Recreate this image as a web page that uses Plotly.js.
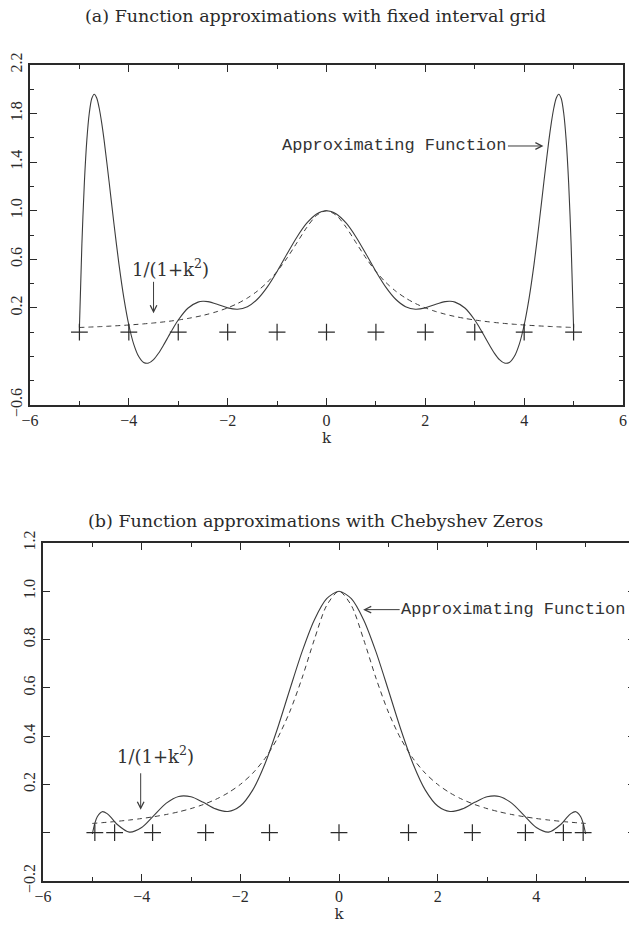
<!DOCTYPE html>
<html>
<head>
<meta charset="utf-8">
<script src="https://cdn.plot.ly/plotly-3.0.1.min.js"></script>
<style>
html,body{margin:0;padding:0;overflow:hidden;background:#fff;}
#chart{width:640px;height:928px;}
</style>
</head>
<body>
<div id="chart"></div>
<script>
// ---------- Data ----------
// (a) fixed interval grid
const kA = [-5,-4.95,-4.9,-4.85,-4.8,-4.75,-4.7,-4.65,-4.6,-4.55,-4.5,-4.4,-4.3,-4.2,-4.1,-4,-3.9,-3.8,-3.7,-3.6,-3.5,-3.4,-3.3,-3.2,-3.1,-3,-2.8,-2.6,-2.5,-2.4,-2.2,-2,-1.8,-1.6,-1.4,-1.2,-1,-0.8,-0.6,-0.4,-0.2,0,0.2,0.4,0.6,0.8,1,1.2,1.4,1.6,1.8,2,2.2,2.4,2.5,2.6,2.8,3,3.1,3.2,3.3,3.4,3.5,3.6,3.7,3.8,3.9,4,4.1,4.2,4.3,4.4,4.5,4.55,4.6,4.65,4.7,4.75,4.8,4.85,4.9,4.95,5];
const approxA = [0.0385,0.7261,1.2303,1.5810,1.8044,1.9236,1.9590,1.9280,1.8459,1.7258,1.5787,1.2402,0.8881,0.5604,0.2802,0.0588,-0.1007,-0.2013,-0.2496,-0.2546,-0.2262,-0.1743,-0.1083,-0.0363,0.0349,0.1,0.1987,0.2472,0.2538,0.2510,0.2278,0.2,0.1888,0.2099,0.2710,0.3708,0.5,0.6432,0.7818,0.8971,0.9734,1,0.9734,0.8971,0.7818,0.6432,0.5,0.3708,0.2710,0.2099,0.1888,0.2,0.2278,0.2510,0.2538,0.2472,0.1987,0.1,0.0349,-0.0363,-0.1083,-0.1743,-0.2262,-0.2546,-0.2496,-0.2013,-0.1007,0.0588,0.2802,0.5604,0.8881,1.2402,1.5787,1.7258,1.8459,1.9280,1.9590,1.9236,1.8044,1.5810,1.2303,0.7261,0.0385];
const exactA = [0.0385,0.0392,0.0400,0.0408,0.0416,0.0424,0.0433,0.0442,0.0451,0.0461,0.0471,0.0491,0.0513,0.0537,0.0561,0.0588,0.0617,0.0648,0.0681,0.0716,0.0755,0.0796,0.0841,0.0890,0.0942,0.1,0.1131,0.1289,0.1379,0.1479,0.1712,0.2,0.2358,0.2809,0.3378,0.4098,0.5,0.6098,0.7353,0.8621,0.9615,1,0.9615,0.8621,0.7353,0.6098,0.5,0.4098,0.3378,0.2809,0.2358,0.2,0.1712,0.1479,0.1379,0.1289,0.1131,0.1,0.0942,0.0890,0.0841,0.0796,0.0755,0.0716,0.0681,0.0648,0.0617,0.0588,0.0561,0.0537,0.0513,0.0491,0.0471,0.0461,0.0451,0.0442,0.0433,0.0424,0.0416,0.0408,0.0400,0.0392,0.0385];
const nodesA = [-5,-4,-3,-2,-1,0,1,2,3,4,5];
const nodesAy = [0,0,0,0,0,0,0,0,0,0,0];

// (b) Chebyshev zeros
const kB = [-5,-4.95,-4.9,-4.8,-4.7,-4.6,-4.5,-4.25,-4,-3.75,-3.5,-3.25,-3,-2.75,-2.5,-2.25,-2,-1.75,-1.5,-1.25,-1,-0.75,-0.5,-0.25,0,0.25,0.5,0.75,1,1.25,1.5,1.75,2,2.25,2.5,2.75,3,3.25,3.5,3.75,4,4.25,4.5,4.6,4.7,4.8,4.9,4.95,5];
const approxB = [-0.0053,0.0386,0.0664,0.0871,0.0791,0.0583,0.0352,0.0025,0.0213,0.0718,0.1224,0.1503,0.1488,0.1258,0.0987,0.0879,0.1105,0.1764,0.2858,0.4296,0.5910,0.7489,0.8813,0.9692,1,0.9692,0.8813,0.7489,0.5910,0.4296,0.2858,0.1764,0.1105,0.0879,0.0987,0.1258,0.1488,0.1503,0.1224,0.0718,0.0213,0.0025,0.0352,0.0583,0.0791,0.0871,0.0664,0.0386,-0.0053];
const exactB = [0.0385,0.0392,0.0400,0.0416,0.0433,0.0451,0.0471,0.0525,0.0588,0.0664,0.0755,0.0865,0.1,0.1168,0.1379,0.1649,0.2,0.2462,0.3077,0.3902,0.5,0.64,0.8,0.9412,1,0.9412,0.8,0.64,0.5,0.3902,0.3077,0.2462,0.2,0.1649,0.1379,0.1168,0.1,0.0865,0.0755,0.0664,0.0588,0.0525,0.0471,0.0451,0.0433,0.0416,0.0400,0.0392,0.0385];
const nodesB = [-4.9491,-4.5482,-3.7787,-2.7032,-1.4087,0,1.4087,2.7032,3.7787,4.5482,4.9491];
const nodesBy = [0,0,0,0,0,0,0,0,0,0,0];

// tick labels
const xATickVals = [-6,-4,-2,0,2,4,6];
const xATickText = ['\u22126','\u22124','\u22122','0','2','4','6'];
const xBTickVals = [-6,-4,-2,0,2,4];
const xBTickText = ['\u22126','\u22124','\u22122','0','2','4'];
const yATickVals = [-0.6,0.2,0.6,1.0,1.4,1.8,2.2];
const yATickText = ['\u22120.6','0.2','0.6','1.0','1.4','1.8','2.2'];
const yBTickVals = [-0.2,0.2,0.4,0.6,0.8,1.0,1.2];
const yBTickText = ['\u22120.2','0.2','0.4','0.6','0.8','1.0','1.2'];

// ---------- Figure ----------
const W = 640, H = 928;
const ink = '#2a2a2a';
const curve = '#3c3c3c';

const traces = [
  {x: kA, y: exactA, xaxis:'x', yaxis:'y', mode:'lines', line:{color:curve, width:1, dash:'5px,4px', shape:'spline', smoothing:0.8}, hoverinfo:'skip'},
  {x: kA, y: approxA, xaxis:'x', yaxis:'y', mode:'lines', line:{color:curve, width:1.1, shape:'spline', smoothing:0.8}, hoverinfo:'skip'},
  {x: nodesA, y: nodesAy, xaxis:'x', yaxis:'y', mode:'markers', marker:{symbol:'cross-thin', size:12, line:{width:1.2, color:ink}}, hoverinfo:'skip'},
  {x: kB, y: exactB, xaxis:'x2', yaxis:'y2', mode:'lines', line:{color:curve, width:1, dash:'5px,4px', shape:'spline', smoothing:0.8}, hoverinfo:'skip'},
  {x: kB, y: approxB, xaxis:'x2', yaxis:'y2', mode:'lines', line:{color:curve, width:1.1, shape:'spline', smoothing:0.8}, hoverinfo:'skip'},
  {x: nodesB, y: nodesBy, xaxis:'x2', yaxis:'y2', mode:'markers', marker:{symbol:'cross-thin', size:12, line:{width:1.2, color:ink}}, hoverinfo:'skip'}
];

const tickFont = {family:'Liberation Serif, serif', size:16, color:ink};
function xAxis(dom, anchor, tv, tt){
  return {domain: dom, anchor: anchor, range:[-6,6], showgrid:false, zeroline:false,
    showline:true, linecolor:ink, linewidth:1.6, mirror:'allticks',
    ticks:'inside', ticklen:7, tickwidth:1, tickcolor:ink,
    tickmode:'array', tickvals:tv, ticktext:tt, tickfont:tickFont,
    minor:{dtick:1, tick0:0, ticks:'inside', ticklen:4, tickwidth:1, tickcolor:ink},
    title:{text:'k', font:{family:'DejaVu Serif, serif', size:15, color:ink}, standoff:4}};
}
function yAxis(dom, anchor, rng, tv, tt, minorLen){
  return {domain: dom, anchor: anchor, range: rng, showgrid:false, zeroline:false,
    showline:true, linecolor:ink, linewidth:1.6, mirror:'allticks',
    ticks:'inside', ticklen:7, tickwidth:1, tickcolor:ink,
    tickmode:'array', tickvals:tv, ticktext:tt, tickfont:tickFont, tickangle:-90,
    minor:{dtick:0.2, tick0:0, ticks:'inside', ticklen:minorLen, tickwidth:1, tickcolor:ink}};
}

const layout = {
  width: W, height: H,
  margin:{l:0, r:0, t:0, b:0},
  paper_bgcolor:'#fff', plot_bgcolor:'#fff',
  showlegend:false,
  xaxis: xAxis([30/W, 623/W], 'y', xATickVals, xATickText),
  yaxis: yAxis([1-405/H, 1-65/H], 'x', [-0.6, 2.2], yATickVals, yATickText, 4),
  xaxis2: xAxis([43/W, 635/W], 'y2', xBTickVals, xBTickText),
  yaxis2: yAxis([1-881/H, 1-543/H], 'x2', [-0.2, 1.2], yBTickVals, yBTickText, 7),
  annotations: [
    {xref:'paper', yref:'paper', x:315/W, y:1-16/H, xanchor:'center', yanchor:'middle', showarrow:false,
     text:'(a) Function approximations with fixed interval grid', font:{family:'DejaVu Serif, serif', size:17.5, color:ink}},
    {xref:'paper', yref:'paper', x:315/W, y:1-521/H, xanchor:'center', yanchor:'middle', showarrow:false,
     text:'(b) Function approximations with Chebyshev Zeros', font:{family:'DejaVu Serif, serif', size:17.5, color:ink}},
    // (a) labels
    {xref:'x', yref:'y', x:4.39, y:1.533, ax:-149, ay:0, showarrow:true, arrowhead:5, arrowsize:1.3, arrowwidth:1, arrowcolor:curve,
     text:'Approximating Function', font:{family:'Liberation Mono, monospace', size:17, color:'#333'}},
    {xref:'x', yref:'y', x:-3.16, y:0.528, showarrow:false, xanchor:'center', yanchor:'middle',
     text:'1/(1+k<sup>2</sup>)', font:{family:'DejaVu Serif, serif', size:18, color:'#333'}},
    {xref:'x', yref:'y', x:-3.5, y:0.155, ax:0, ay:-33, showarrow:true, arrowhead:5, arrowsize:1.3, arrowwidth:1, arrowcolor:curve, text:''},
    // (b) labels
    {xref:'x2', yref:'y2', x:0.49, y:0.924, ax:150, ay:0, showarrow:true, arrowhead:5, arrowsize:1.3, arrowwidth:1, arrowcolor:curve,
     text:'Approximating Function', font:{family:'Liberation Mono, monospace', size:17, color:'#333'}},
    {xref:'x2', yref:'y2', x:-3.71, y:0.323, showarrow:false, xanchor:'center', yanchor:'middle',
     text:'1/(1+k<sup>2</sup>)', font:{family:'DejaVu Serif, serif', size:18, color:'#333'}},
    {xref:'x2', yref:'y2', x:-4.02, y:0.095, ax:0, ay:-38, showarrow:true, arrowhead:5, arrowsize:1.3, arrowwidth:1, arrowcolor:curve, text:''}
  ]
};

Plotly.newPlot('chart', traces, layout, {staticPlot:true, displayModeBar:false});
</script>
</body>
</html>
